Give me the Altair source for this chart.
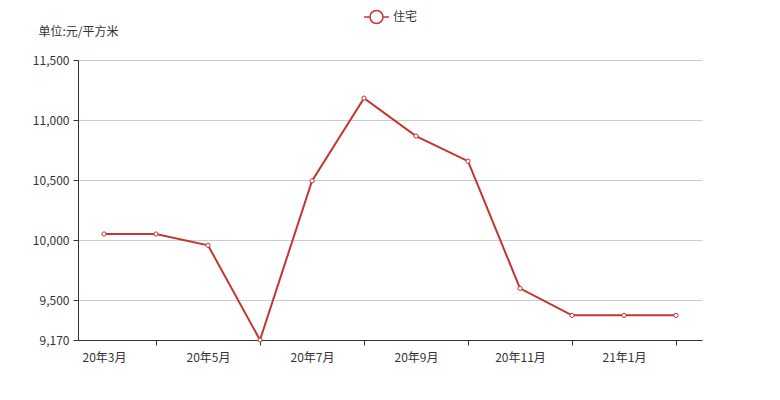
import altair as alt
import pandas as pd

months = ["20年3月", "20年4月", "20年5月", "20年6月", "20年7月", "20年8月",
          "20年9月", "20年10月", "20年11月", "20年12月", "21年1月", "21年2月"]
prices = [10052, 10052, 9958, 9170, 10494, 11183, 10867, 10658, 9600, 9375, 9375, 9375]
series = "住宅"
y_ticks = [9170, 9500, 10000, 10500, 11000, 11500]

RED = "#c23531"
FONT = "Noto Sans CJK SC"

df = pd.DataFrame({"idx": list(range(len(months))), "month": months,
                   "price": prices, "series": [series] * len(months)})

label_arr = "[" + ",".join("'" + m + "'" for m in months) + "]"

legend_path = ("M-1,0L-0.52,0M0.52,0L1,0"
               "M-0.52,0A0.52,0.52 0 1,0 0.52,0A0.52,0.52 0 1,0 -0.52,0Z")

x_enc = alt.X("idx:Q",
              scale=alt.Scale(domain=[-0.5, len(months) - 0.5], nice=False, zero=False),
              axis=alt.Axis(values=list(range(len(months))), title=None, grid=False,
                            labelExpr=f"datum.value % 2 == 0 ? {label_arr}[datum.value] : ''",
                            tickOpacity={"condition": {"test": "datum.value % 2 == 1", "value": 1}, "value": 0},
                            domainColor="#333", tickColor="#333", tickSize=5,
                            labelColor="#333", labelFontSize=12, labelFont=FONT,
                            labelPadding=7, labelFlush=False, labelOverlap=False))
y_enc = alt.Y("price:Q",
              scale=alt.Scale(domain=[9170, 11500], nice=False, zero=False),
              axis=alt.Axis(values=y_ticks, format=",.0f", title="单位:元/平方米",
                            titleAngle=0, titleAlign="left", titleBaseline="middle",
                            titleX=-40, titleY=-29, titleFont=FONT, titleFontSize=12,
                            titleFontWeight="normal", titleColor="#333",
                            gridColor="#cccccc", domainColor="#333", tickColor="#333", tickSize=5,
                            labelColor="#333", labelFontSize=12, labelFont=FONT, labelPadding=4))

base = alt.Chart(df)

line = base.mark_line(strokeWidth=2).encode(
    x=x_enc, y=y_enc,
    color=alt.Color("series:N", scale=alt.Scale(range=[RED]),
                    legend=alt.Legend(title=None, orient="none", legendX=285, legendY=-56.5,
                                      symbolType=legend_path, symbolSize=625,
                                      symbolStrokeColor="#d14a47", symbolFillColor="white",
                                      symbolStrokeWidth=1.5, labelOffset=3,
                                      labelFont=FONT, labelFontSize=12, labelColor="#333")),
)

points = base.mark_point(filled=True, fill="white", stroke=RED, strokeWidth=1,
                         size=18, opacity=1).encode(x=x_enc, y=y_enc)

chart = alt.layer(line, points).properties(
    width=624, height=280,
    autosize=alt.AutoSizeParams(type="none"),
    padding={"left": 78, "top": 60, "right": 78, "bottom": 60},
).configure(background="white").configure_view(stroke=None)

chart.save("out.html", embed_options={"renderer": "svg", "actions": False})
